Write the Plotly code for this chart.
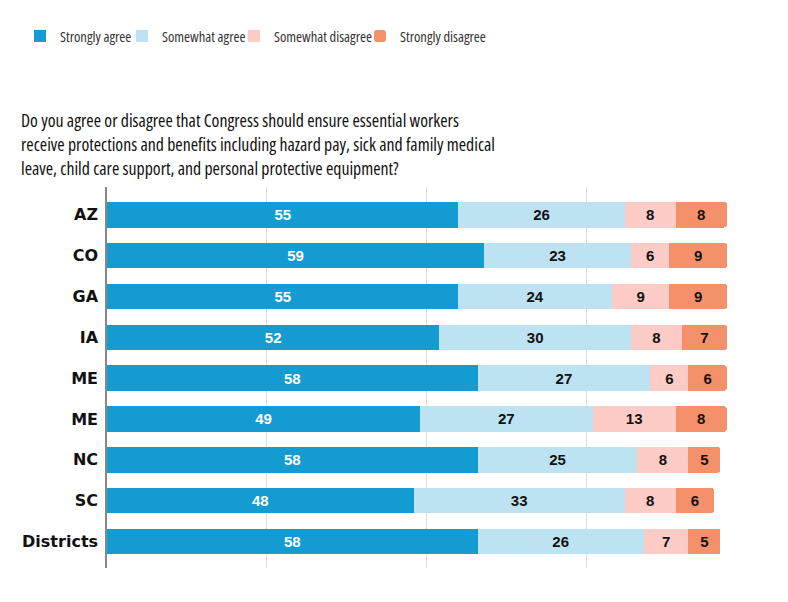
import plotly.graph_objects as go

# Survey answers, percent of respondents
states = ['AZ', 'CO', 'GA', 'IA', 'ME', 'ME', 'NC', 'SC', 'Districts']
strongly_agree = [55, 59, 55, 52, 58, 49, 58, 48, 58]
somewhat_agree = [26, 23, 24, 30, 27, 27, 25, 33, 26]
somewhat_disagree = [8, 6, 9, 8, 6, 13, 8, 8, 7]
strongly_disagree = [8, 9, 9, 7, 6, 8, 5, 6, 5]

question_lines = [
    'Do you agree or disagree that Congress should ensure essential workers',
    'receive protections and benefits including hazard pay, sick and family medical',
    'leave, child care support, and personal protective equipment?',
]

# row index, top to bottom (two rows share the "ME" label)
rows = list(range(len(states)))

series = [
    ('Strongly agree', strongly_agree, '#139bd2', 'white'),
    ('Somewhat agree', somewhat_agree, '#bde3f3', '#111111'),
    ('Somewhat disagree', somewhat_disagree, '#fdccc6', '#111111'),
    ('Strongly disagree', strongly_disagree, '#f5916a', '#111111'),
]

# page is drawn with an 8px body margin, so pixel positions below are shifted by it
W, H = 788, 602
ML, MR, MT, MB = 99, 50, 179, 42
plot_w = W - ML - MR
plot_h = H - MT - MB

def px_x(x):
    return (x - ML) / plot_w

def px_y(y):
    return 1 + (MT - y) / plot_h

def condensed(s):
    return '<span style="font-stretch:75%">' + s + '</span>'

fig = go.Figure()

# one legend per item so each can sit where the original has it
legend_names = ['legend', 'legend2', 'legend3', 'legend4']
legend_x = [12, 114, 226, 352]

for i, (name, vals, color, txt_color) in enumerate(series):
    marker = dict(color=color, line=dict(width=0))
    if i == len(series) - 1:
        marker['cornerradius'] = 3
    fig.add_trace(go.Bar(
        name=condensed(name),
        x=vals,
        y=rows,
        orientation='h',
        marker=marker,
        text=vals,
        texttemplate='<b>%{text}</b>',
        textposition='inside',
        insidetextanchor='middle',
        textangle=0,
        textfont=dict(family='Liberation Sans, Arial', size=15, color=txt_color),
        hoverinfo='skip',
        legend=legend_names[i],
    ))

legends = {}
for lname, lx in zip(legend_names, legend_x):
    legends[lname] = dict(
        orientation='h',
        xref='container',
        yref='container',
        x=lx / W,
        xanchor='left',
        y=1 - 28 / H,
        yanchor='middle',
        font=dict(family='Open Sans', size=14.5, color='#333333'),
        itemclick=False,
        itemdoubleclick=False,
        bgcolor='rgba(0,0,0,0)',
    )

fig.update_layout(
    width=W,
    height=H,
    barmode='stack',
    bargap=0.375,
    plot_bgcolor='white',
    paper_bgcolor='white',
    margin=dict(l=ML, r=MR, t=MT, b=MB),
    showlegend=True,
    **legends,
)

for k, line in enumerate(question_lines):
    fig.add_annotation(
        text=condensed(line),
        xref='paper',
        yref='paper',
        x=px_x(11),
        y=px_y(112.5 + 23.7 * k),
        xanchor='left',
        yanchor='middle',
        showarrow=False,
        font=dict(family='Open Sans', size=17.8, color='#111111'),
    )

fig.update_xaxes(
    range=[0, 100],
    dtick=25,
    showgrid=True,
    gridcolor='#dcdcdc',
    gridwidth=1,
    showticklabels=False,
    zeroline=False,
    showline=False,
    fixedrange=True,
)

fig.update_yaxes(
    tickvals=rows,
    ticktext=states,
    range=[8.65, -0.68],
    showgrid=False,
    zeroline=False,
    showline=True,
    linecolor='#888888',
    linewidth=1.5,
    ticks='',
    ticklabelstandoff=4,
    tickfont=dict(family='DejaVu Sans', size=16, color='#111111', weight='bold'),
    fixedrange=True,
)

fig.write_html("out.html")
